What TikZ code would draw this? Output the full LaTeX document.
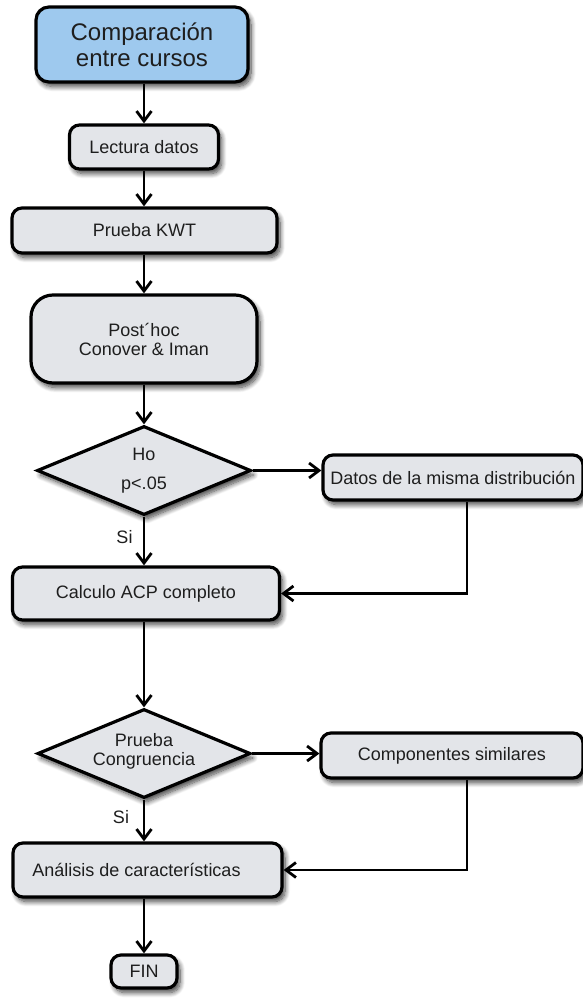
\documentclass[tikz,border=0pt]{standalone}
\usepackage{fontspec}
\setmainfont{Liberation Sans}
\usetikzlibrary{arrows.meta,shapes.geometric,shadows.blur}

\definecolor{titlefill}{HTML}{9EC9EE}
\definecolor{boxfill}{HTML}{E3E5E9}
\definecolor{ink}{HTML}{1E1E1E}

\tikzset{
  x=1pt, y=1pt,
  shade/.style={blur shadow={shadow xshift=3pt, shadow yshift=-4.5pt,
      shadow blur steps=10, shadow blur radius=5pt, shadow opacity=75}},
  body/.style={text=ink, font=\fontsize{18}{19}\selectfont, align=center},
  stepbox/.style={draw=black, line width=3.2pt, fill=boxfill, rounded corners=10pt,
      shade, inner sep=0pt, body},
  titlebox/.style={stepbox, fill=titlefill, rounded corners=13pt,
      font=\fontsize{24}{26}\selectfont},
  decision/.style={draw=black, line width=3.2pt, fill=boxfill, diamond, shade,
      inner sep=0pt},
  flow/.style={line width=2.8pt, -{Straight Barb[length=10pt,width=15pt]}},
  tag/.style={body, inner sep=0pt}
}

\begin{document}
\begin{tikzpicture}
\useasboundingbox (0,0) rectangle (583,-998);

% main column
\node[titlebox, minimum width=212pt, minimum height=75pt] (start) at (142,-44.5)
  {Comparación\\entre cursos};
\node[stepbox, minimum width=149pt, minimum height=44pt] (read) at (144,-147)
  {Lectura datos};
\node[stepbox, minimum width=265pt, minimum height=45pt] (kwt) at (144.5,-230.5)
  {Prueba KWT};
\node[stepbox, minimum width=226pt, minimum height=88pt, rounded corners=22pt] (post) at (144,-339)
  {Post´hoc\\Conover \& Iman};

\node[decision, minimum width=214pt, minimum height=89pt] (ho) at (144,-470.5) {};
\node[body] (hotext) at (ho.center) {Ho\\[10pt]p<.05};

\node[stepbox, minimum width=267pt, minimum height=53pt] (acp) at (146,-593.5)
  {Calculo ACP completo};

\node[decision, minimum width=213pt, minimum height=89pt] (cong) at (144,-753.5) {};
\node[body] (congtext) at ([yshift=2pt]cong.center) {Prueba\\Congruencia};

\node[stepbox, minimum width=269pt, minimum height=54pt] (feat) at (147.5,-870)
  {\hspace*{-22pt}Análisis de características};
\node[stepbox, minimum width=66pt, minimum height=33pt] (fin) at (144,-971.5)
  {FIN};

% side branches
\node[stepbox, minimum width=260pt, minimum height=45pt] (same) at (453,-477.5)
  {Datos de la misma distribución};
\node[stepbox, minimum width=262pt, minimum height=45pt] (comp) at (452,-755.5)
  {Componentes similares};

% answer labels
\node[tag, anchor=base] (si1) at (124.5,-543) {Si};
\node[tag, anchor=base] (si2) at (121,-823) {Si};

% vertical flow
\draw[flow] (start.south -| read.north) -- (read.north);
\draw[flow] (read.south) -- (read.south |- kwt.north);
\draw[flow] (kwt.south -| post.north) -- (post.north);
\draw[flow] (post.south) -- (ho.north);
\draw[flow] (ho.south) -- (acp.north -| ho.south);
\draw[flow] (acp.south -| cong.north) -- (cong.north);
\draw[flow] (cong.south) -- (feat.north -| cong.south);
\draw[flow] (feat.south -| fin.north) -- (fin.north);

% branches to the right and back
\draw[flow] (ho.east) -- (ho.east -| same.west);
\draw[flow] ([xshift=14pt]same.south) |- (acp.east);
\draw[flow] (cong.east) -- (cong.east -| comp.west);
\draw[flow] ([xshift=15pt]comp.south) |- (feat.east);
\end{tikzpicture}
\end{document}
